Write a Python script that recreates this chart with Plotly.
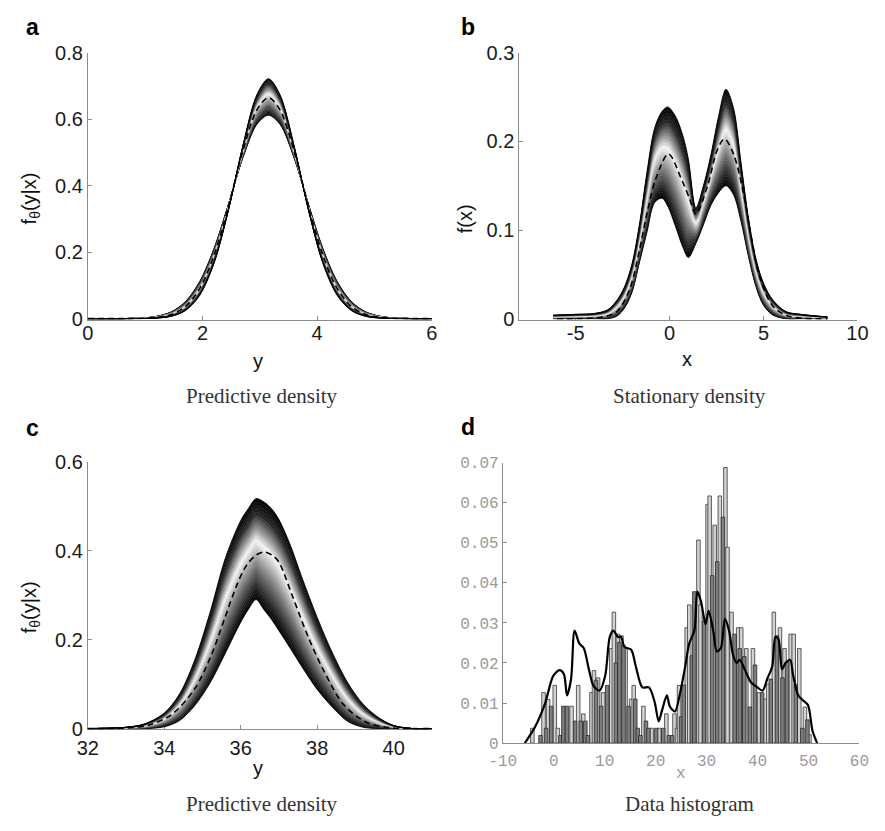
import numpy as np
import plotly.graph_objects as go

# ---------------- data ----------------
# Panel a: predictive density
A_X = [0, 0.75, 1.15, 1.45, 1.7, 1.95, 2.2, 2.45, 2.7, 2.95, 3.15, 3.35, 3.6, 3.85, 4.1, 4.35, 4.6, 4.85, 5.15, 5.55, 6.0]
A_HI = [0, 0, 0.0011, 0.0066, 0.0237, 0.0696, 0.166, 0.325, 0.518, 0.675, 0.722, 0.675, 0.518, 0.325, 0.166, 0.0696, 0.0237, 0.0066, 0.0011, 0, 0]
A_LO = [0, 0.0007, 0.0054, 0.020, 0.0509, 0.1115, 0.211, 0.343, 0.482, 0.585, 0.612, 0.585, 0.482, 0.343, 0.211, 0.1115, 0.0509, 0.020, 0.0054, 0.0007, 0]
A_MEAN = [0, 0.0002, 0.0026, 0.012, 0.036, 0.090, 0.190, 0.337, 0.502, 0.629, 0.665, 0.629, 0.502, 0.337, 0.190, 0.090, 0.036, 0.012, 0.0026, 0.0002, 0]

# Panel b: stationary density
B_X = [-6.2, -5, -4, -3.3, -2.8, -2.4, -2.0, -1.6, -1.2, -0.8, -0.4, -0.1, 0.3, 0.7, 1.0, 1.4, 1.8, 2.2, 2.6, 3.0, 3.4, 3.8, 4.2, 4.6, 5.0, 5.5, 6.2, 7.0, 8.4]
B_HI = [0.004, 0.005, 0.006, 0.010, 0.021, 0.036, 0.062, 0.107, 0.166, 0.215, 0.234, 0.239, 0.229, 0.207, 0.180, 0.125, 0.150, 0.185, 0.228, 0.259, 0.238, 0.176, 0.113, 0.067, 0.040, 0.021, 0.008, 0.005, 0.002]
B_LO = [0.0, 0.0, 0.0, 0.0, 0.003, 0.012, 0.030, 0.064, 0.098, 0.131, 0.136, 0.127, 0.105, 0.081, 0.069, 0.085, 0.106, 0.128, 0.142, 0.150, 0.140, 0.110, 0.070, 0.036, 0.015, 0.004, 0.0, 0.0, 0.0]
B_MEAN_X = [-6.0, -5.0, -3.6, -2.82, -2.13, -1.61, -1.18, -0.75, -0.06, 0.64, 1.07, 1.4, 2.02, 2.53, 2.92, 3.40, 3.92, 4.35, 4.78, 5.47, 6.3, 8.4]
B_MEAN = [0.0, 0.0, 0.002, 0.0077, 0.033, 0.077, 0.121, 0.157, 0.186, 0.157, 0.135, 0.118, 0.150, 0.190, 0.203, 0.186, 0.143, 0.092, 0.048, 0.015, 0.003, 0.0]

# Panel c: predictive density
C_X = [32, 33.0, 33.5, 34.0, 34.4, 34.8, 35.2, 35.6, 36.0, 36.2, 36.4, 36.6, 36.8, 37.0, 37.3, 37.6, 38.0, 38.4, 38.8, 39.2, 39.6, 40.0, 40.5, 41]
C_HI = [0, 0.003, 0.011, 0.035, 0.078, 0.155, 0.262, 0.384, 0.468, 0.495, 0.517, 0.510, 0.495, 0.470, 0.412, 0.340, 0.250, 0.170, 0.103, 0.055, 0.025, 0.007, 0.0, 0]
C_LO = [0, 0.0, 0.0, 0.004, 0.018, 0.052, 0.103, 0.170, 0.239, 0.268, 0.290, 0.268, 0.246, 0.220, 0.180, 0.139, 0.088, 0.048, 0.016, 0.003, 0.0, 0, 0, 0]
C_MEAN_X = [32, 33.0, 33.6, 34.2, 34.8, 35.22, 35.56, 35.9, 36.15, 36.4, 36.62, 36.85, 37.0, 37.34, 37.76, 38.19, 38.69, 39.29, 39.9, 41]
C_MEAN = [0, 0.001, 0.008, 0.032, 0.090, 0.163, 0.243, 0.323, 0.367, 0.390, 0.397, 0.388, 0.374, 0.301, 0.207, 0.127, 0.054, 0.014, 0.002, 0]

# Panel d: data histogram (two bar series) and density curve
D_LIGHT_X = [-4.2, -2.0, -1.1, 0.2, 0.8, 3.5, 4.8, 5.8, 7.4, 7.9, 8.7, 9.7, 11.3, 11.8, 12.6, 13.3, 14.1, 15.2, 15.7,
             17.6, 19.2, 20.7, 22.1, 23.7, 24.2, 24.6, 26.1, 26.6, 28.4, 28.8, 30.2, 30.6, 31.6, 32.6, 33.7, 34.1,
             34.9, 36.2, 36.8, 37.8, 39.1, 40.3, 41.5, 42.1, 43.2, 44.4, 45.3, 46.5, 47.1, 48.2, 49.3, 50.2]
D_LIGHT_H = [0.0037, 0.0126, 0.0109, 0.0144, 0.0037, 0.0092, 0.0144, 0.0073, 0.0126, 0.0181, 0.0163, 0.0126, 0.0236,
             0.0327, 0.0272, 0.0268, 0.0236, 0.0110, 0.0144, 0.0092, 0.0037, 0.0037, 0.0073, 0.0073, 0.0037, 0.0144,
             0.0288, 0.0345, 0.0507, 0.0345, 0.0596, 0.0617, 0.0544, 0.0617, 0.0688, 0.0489, 0.0327, 0.0288, 0.0288,
             0.0236, 0.0236, 0.0126, 0.0110, 0.0147, 0.0327, 0.0288, 0.0236, 0.0272, 0.0272, 0.0236, 0.0090, 0.0021]
D_DARK_X = [-2.6, -1.5, -0.5, 1.3, 1.9, 2.6, 4.2, 5.3, 6.2, 6.7, 8.3, 9.3, 10.5, 12.2, 12.9, 13.7, 14.7, 16.0, 16.5,
            17.0, 18.1, 18.6, 20.1, 21.5, 22.6, 23.2, 25.0, 25.5, 27.1, 27.6, 29.5, 31.1, 32.1, 33.2, 35.5, 36.5,
            37.4, 38.5, 39.5, 40.9, 42.6, 43.8, 44.9, 45.8, 47.5, 48.8, 49.8]
D_DARK_H = [0.0019, 0.0037, 0.0092, 0.0019, 0.0092, 0.0092, 0.0055, 0.0055, 0.0055, 0.0019, 0.0157, 0.0092, 0.0144,
            0.0200, 0.0252, 0.0244, 0.0092, 0.0110, 0.0037, 0.0019, 0.0055, 0.0037, 0.0037, 0.0037, 0.0019, 0.0019,
            0.0066, 0.0145, 0.0218, 0.0378, 0.0305, 0.0418, 0.0453, 0.0564, 0.0272, 0.0236, 0.0216, 0.0090, 0.0195,
            0.0126, 0.0160, 0.0268, 0.0163, 0.0203, 0.0147, 0.0037, 0.0058]
D_CURVE_X = [-5.67, -3.6, -1.7, -0.1, 1.15, 2.0, 2.6, 3.4, 4.1, 5.0, 5.9, 6.9, 7.8, 9.0, 10.1, 11.0, 11.7, 12.6, 13.2,
             13.9, 15.2, 16.1, 17.4, 18.7, 19.8, 20.6, 21.2, 22.2, 22.8, 23.8, 24.7, 25.7, 26.6, 27.6, 28.2, 28.9,
             29.8, 30.4, 31.3, 32.0, 32.8, 33.6, 34.4, 35.2, 35.9, 36.5, 37.5, 38.7, 40.0, 41.0, 41.9, 42.9, 43.5,
             44.1, 44.8, 45.5, 46.4, 47.0, 48.0, 48.9, 49.9, 50.8, 51.7]
D_CURVE_Y = [0.0, 0.0042, 0.0099, 0.0168, 0.0182, 0.0172, 0.0119, 0.0160, 0.0281, 0.0249, 0.0237, 0.0184, 0.0143,
             0.0131, 0.0168, 0.0265, 0.0281, 0.0265, 0.0265, 0.0240, 0.0233, 0.0192, 0.0139, 0.0139, 0.0103, 0.0054,
             0.0079, 0.0119, 0.0091, 0.0079, 0.0119, 0.0184, 0.0249, 0.0281, 0.0378, 0.0354, 0.0297, 0.0330, 0.0281,
             0.0229, 0.0237, 0.0310, 0.0281, 0.0220, 0.0200, 0.0208, 0.0184, 0.0152, 0.0139, 0.0131, 0.0160, 0.0192,
             0.0265, 0.0260, 0.0184, 0.0200, 0.0208, 0.0168, 0.0119, 0.0107, 0.0095, 0.0030, 0.0]

# tick labels
A_XT = [0, 2, 4, 6]; A_YT = [0, 0.2, 0.4, 0.6, 0.8]; A_YTL = ["0", "0.2", "0.4", "0.6", "0.8"]
B_XT = [-5, 0, 5, 10]; B_XTL = ["-5", "0", "5", "10"]; B_YT = [0, 0.1, 0.2, 0.3]; B_YTL = ["0", "0.1", "0.2", "0.3"]
C_XT = [32, 34, 36, 38, 40]; C_YT = [0, 0.2, 0.4, 0.6]; C_YTL = ["0", "0.2", "0.4", "0.6"]
D_XT = [-10, 0, 10, 20, 30, 40, 50, 60]; D_XTL = ["-10", "0", "10", "20", "30", "40", "50", "60"]
D_YT = [0, 0.01, 0.02, 0.03, 0.04, 0.05, 0.06, 0.07]
D_YTL = ["0", "0.01", "0.02", "0.03", "0.04", "0.05", "0.06", "0.07"]

# gradient profile across the band of curves (0 = lower edge, 1 = upper edge)
BAND_T = [0, 0.1, 0.3, 0.45, 0.58, 0.7, 0.85, 1.0]
BAND_G = [0, 30, 110, 180, 245, 150, 40, 0]

W, H = 885, 831


def gray(t):
    g = int(round(float(np.interp(t, BAND_T, BAND_G))))
    return f"rgb({g},{g},{g})"


fig = go.Figure()


def add_band(xs, lo, hi, xa, ya, n=30):
    lo = np.asarray(lo, float)
    hi = np.asarray(hi, float)
    for k in range(n + 1):
        t = k / n
        y = lo + t * (hi - lo)
        kw = {}
        if k > 0:
            kw = dict(fill="tonexty", fillcolor=gray((k - 0.5) / n))
        fig.add_trace(go.Scatter(x=xs, y=y, mode="lines",
                                 line=dict(color=gray(t), width=0.8, shape="spline", smoothing=0.9),
                                 xaxis=xa, yaxis=ya, showlegend=False, hoverinfo="skip", **kw))


def add_mean(xs, ys, xa, ya):
    fig.add_trace(go.Scatter(x=xs, y=ys, mode="lines",
                             line=dict(color="black", width=1.6, dash="6px,4px", shape="spline", smoothing=0.9),
                             xaxis=xa, yaxis=ya, showlegend=False, hoverinfo="skip"))


add_band(A_X, A_LO, A_HI, "x", "y")
add_mean(A_X, A_MEAN, "x", "y")
add_band(B_X, B_LO, B_HI, "x2", "y2")
add_mean(B_MEAN_X, B_MEAN, "x2", "y2")
add_band(C_X, C_LO, C_HI, "x3", "y3")
add_mean(C_MEAN_X, C_MEAN, "x3", "y3")

fig.add_trace(go.Bar(x=D_LIGHT_X, y=D_LIGHT_H, width=0.7, xaxis="x4", yaxis="y4",
                     marker=dict(color="#d2d2d2", line=dict(color="#3a3a3a", width=0.8)),
                     showlegend=False, hoverinfo="skip"))
fig.add_trace(go.Bar(x=D_DARK_X, y=D_DARK_H, width=0.7, xaxis="x4", yaxis="y4",
                     marker=dict(color="#7d7d7d", line=dict(color="#2a2a2a", width=0.8)),
                     showlegend=False, hoverinfo="skip"))
fig.add_trace(go.Scatter(x=D_CURVE_X, y=D_CURVE_Y, mode="lines", xaxis="x4", yaxis="y4",
                         line=dict(color="black", width=2.2, shape="spline", smoothing=0.8),
                         showlegend=False, hoverinfo="skip"))


def dom_x(p):
    return [p[0] / W, p[1] / W]


def dom_y(p):
    return [1 - p[1] / H, 1 - p[0] / H]


SANS = "Liberation Sans, Arial, sans-serif"
SERIF = "Liberation Serif, Times New Roman, serif"
MONO = "Liberation Mono, Courier New, monospace"

base = dict(showline=True, linecolor="#8c8c8c", linewidth=1, ticks="inside", ticklen=4,
            tickcolor="#8c8c8c", showgrid=False, zeroline=False, layer="below traces",
            tickfont=dict(family=SANS, size=20, color="#1a1a1a"))
basex = dict(base, ticklabelstandoff=-5)
basex_c = dict(base, ticklabelstandoff=1)
mono = dict(base, tickfont=dict(family=MONO, size=16, color="#9a9a9a"))
monox = dict(mono, ticklabelstandoff=3)

layout = dict(
    width=W, height=H, margin=dict(l=0, r=0, t=0, b=0),
    paper_bgcolor="white", plot_bgcolor="white", showlegend=False, barmode="overlay",
    xaxis=dict(basex, domain=dom_x((76, 430)), range=[0, 6], tickvals=A_XT, anchor="y"),
    yaxis=dict(base, domain=dom_y((43, 317)), range=[-0.003, 0.8], tickvals=A_YT, ticktext=A_YTL, anchor="x"),
    xaxis2=dict(basex, domain=dom_x((520, 868)), range=[-8, 10], tickvals=B_XT, ticktext=B_XTL, anchor="y2"),
    yaxis2=dict(base, domain=dom_y((43, 317)), range=[-0.001, 0.3], tickvals=B_YT, ticktext=B_YTL, anchor="x2"),
    xaxis3=dict(basex_c, domain=dom_x((76, 430)), range=[32, 41], tickvals=C_XT, anchor="y3"),
    yaxis3=dict(base, domain=dom_y((463, 738)), range=[-0.002, 0.6], tickvals=C_YT, ticktext=C_YTL, anchor="x3"),
    xaxis4=dict(monox, domain=dom_x((503, 870)), range=[-10, 60], tickvals=D_XT, ticktext=D_XTL, anchor="y4"),
    yaxis4=dict(mono, domain=dom_y((464, 752)), range=[0, 0.07], tickvals=D_YT, ticktext=D_YTL, anchor="x4"),
)


def ann(text, x, y, size, family, color="#111", bold=False, angle=0):
    if bold:
        text = f"<b>{text}</b>"
    return dict(text=text, x=x / W, y=1 - y / H, xref="paper", yref="paper", showarrow=False,
                xanchor="center", yanchor="middle", textangle=angle,
                font=dict(size=size, family=family, color=color))


annotations = [
    ann("a", 19, 16, 23, SANS, "#000", True),
    ann("b", 467, 16, 23, SANS, "#000", True),
    ann("c", 19, 428, 23, SANS, "#000", True),
    ann("d", 467, 427, 23, SANS, "#000", True),
    ann("f<sub>θ</sub>(y|x)", 17, 193, 20, SANS, angle=-90),
    ann("f(x)", 464, 213, 20, SANS, angle=-90),
    ann("f<sub>θ</sub>(y|x)", 17, 613, 20, SANS, angle=-90),
    ann("y", 251, 360, 20, SANS),
    ann("x", 693, 357, 20, SANS),
    ann("y", 251, 778, 20, SANS),
    ann("x", 686, 784, 16, MONO, "#9a9a9a"),
    ann("Predictive density", 255, 395, 21, SERIF, "#333"),
    ann("Stationary density", 695, 395, 21, SERIF, "#333"),
    ann("Predictive density", 255, 815, 21, SERIF, "#333"),
    ann("Data histogram", 695, 815, 21, SERIF, "#333"),
]
layout["annotations"] = annotations
fig.update_layout(**layout)

fig.write_html("out.html")
